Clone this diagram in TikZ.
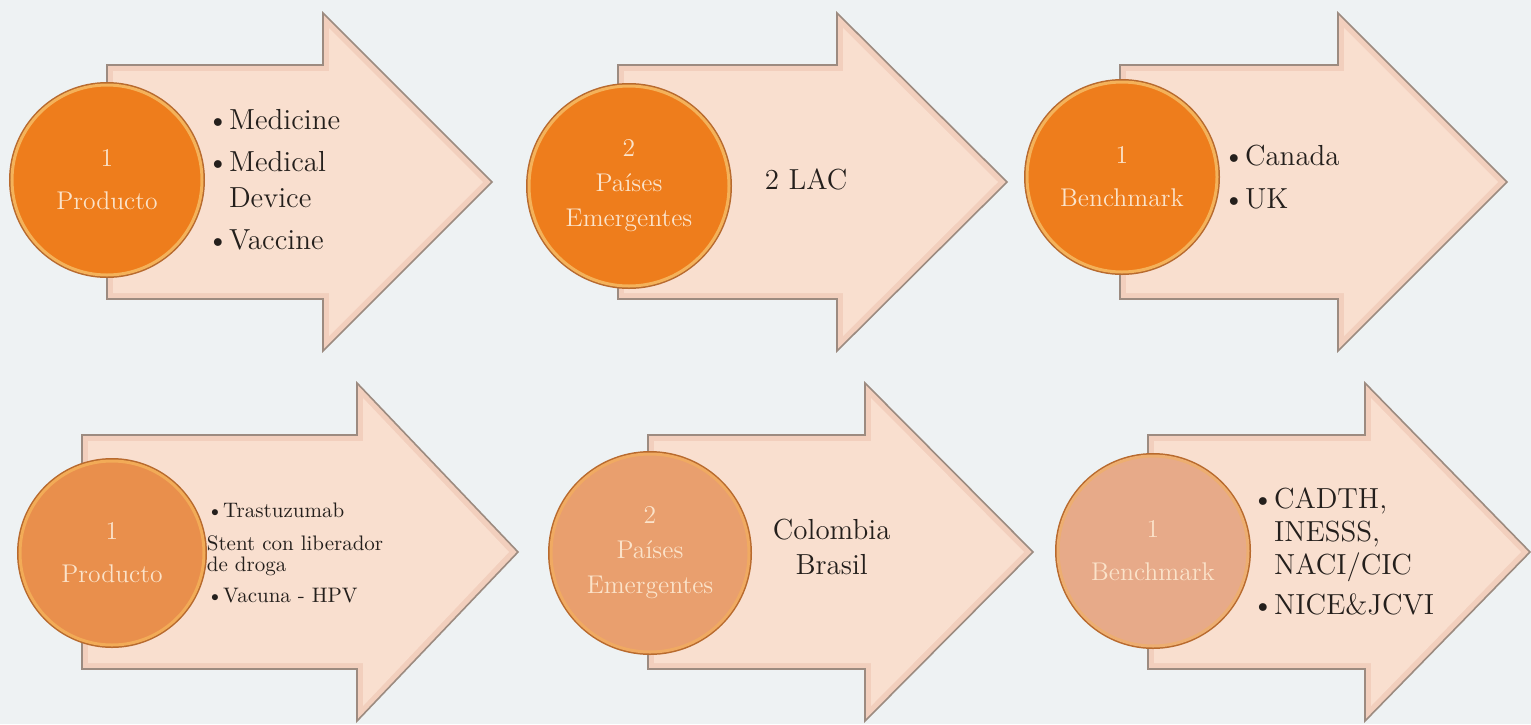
\documentclass[tikz,border=0pt]{standalone}
\usepackage{tikz}
\usetikzlibrary{positioning}
\definecolor{bgpale}{HTML}{EEF2F3}
\definecolor{arrowface}{HTML}{F9DFCF}
\definecolor{arrowbevel}{HTML}{F2CFBD}
\definecolor{arrowline}{HTML}{9C8B80}
\definecolor{orangeA}{HTML}{EE7D1C}
\definecolor{orangeB}{HTML}{E98F4C}
\definecolor{orangeC}{HTML}{E99F6E}
\definecolor{orangeD}{HTML}{E7AA89}
\definecolor{rim}{HTML}{F4B25A}
\definecolor{ballline}{HTML}{B86A2E}
\definecolor{balltext}{HTML}{FBE3CA}
\definecolor{ink}{HTML}{241F1C}
\newcommand{\arrowbox}[4]{
  % #1 left end, #2 notch, #3 tip, #4 centre line
  \filldraw[fill=arrowbevel, draw=arrowline, line width=0.8pt]
    (#1,#4-\bh) -- (#2,#4-\bh) -- (#2,#4-\hh) -- (#3,#4) -- (#2,#4+\hh) -- (#2,#4+\bh) -- (#1,#4+\bh) -- cycle;
  \fill[arrowface]
    (#1+6,#4-\bh+6) -- (#2+6,#4-\bh+6) -- (#2+6,#4-\hh+15) -- (#3-9,#4) -- (#2+6,#4+\hh-15) -- (#2+6,#4+\bh-6) -- (#1+6,#4+\bh-6) -- cycle;
}
\tikzset{
  ball/.style={circle, inner sep=0pt, align=center, text=balltext, draw=rim, line width=1.5pt,
    preaction={draw=ballline, line width=3pt}, font=\fontsize{12.8}{17.5}\selectfont},
  list/.style={inner sep=0pt, align=left, text=ink, font=\fontsize{14.5}{18}\selectfont}
}

\begin{document}
\begin{tikzpicture}[x=0.5pt, y=-0.5pt]
\def\bh{117}
\def\hh{169}

% background
\fill[bgpale] (0,0) rectangle (1531,724);

% the six arrows: left/notch/tip/centre
\foreach \l/\n/\t/\c in {107/323/492/182, 618/837/1007/182, 1120/1338/1507/182,
                         82/357/518/552, 648/865/1033/552, 1148/1365/1530/552} {
  \arrowbox{\l}{\n}{\t}{\c}
}

% top row
\node[ball, fill=orangeA, minimum size=95pt] (c1) at (107,180) {1\\[4pt]Producto};
\node[ball, fill=orangeA, minimum size=100pt] (c2) at (629,186) {2\\Países\\Emergentes};
\node[ball, fill=orangeA, minimum size=95pt] (c3) at (1122,177) {1\\[4pt]Benchmark};

\node[list, right=1.5pt of c1] (t1) {\textbullet Medicine\\[3pt]\textbullet Medical\\\phantom{\textbullet}Device\\[3pt]\textbullet Vaccine};
\node[list, right=17pt of c2, yshift=3.5pt] (t2) {2 LAC};
\node[list, right=2pt of c3] (t3) {\textbullet Canada\\[3.5pt]\textbullet UK};

% bottom row
\node[ball, fill=orangeB, draw=rim!80!orangeB, minimum size=92pt] (c4) at (112,553) {1\\[4pt]Producto};
\node[ball, fill=orangeC, draw=rim!60!orangeC, minimum size=99pt] (c5) at (650,553) {2\\Países\\Emergentes};
\node[ball, fill=orangeD, draw=rim!50!orangeD, minimum size=95pt] (c6) at (1153,551) {1\\[4pt]Benchmark};

\node[list, right=0.5pt of c4, font=\fontsize{10.5}{10.5}\selectfont] (t4)
  {\textbullet Trastuzumab\\[6pt]Stent con liberador\\de droga\\[5pt]\textbullet Vacuna - HPV};
\node[list, right=11pt of c5, yshift=3pt, align=center, font=\fontsize{14.5}{17.5}\selectfont] (t5) {Colombia\\Brasil};
\node[list, right=1pt of c6, font=\fontsize{14.5}{16.5}\selectfont] (t6)
  {\textbullet CADTH,\\\phantom{\textbullet}INESSS,\\\phantom{\textbullet}NACI/CIC\\[3.5pt]\textbullet NICE\&JCVI};
\end{tikzpicture}
\end{document}
